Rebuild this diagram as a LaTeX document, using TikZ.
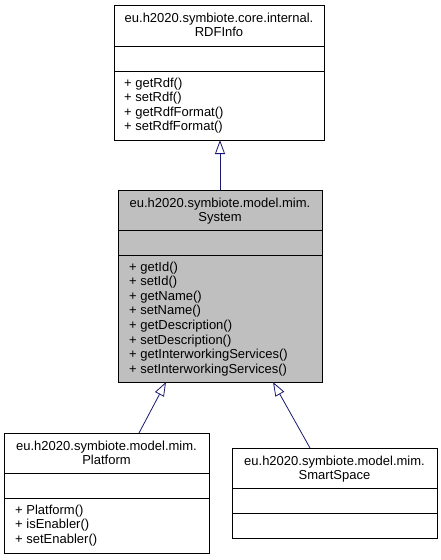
\documentclass[tikz,border=0pt]{standalone}
\usepackage{fontspec}
\setmainfont{Liberation Sans}
\usetikzlibrary{arrows.meta}
\definecolor{edgeblue}{HTML}{191970}
\definecolor{sysgray}{HTML}{BFBFBF}
\tikzset{
  umlbox/.style={draw=black, line width=0.8pt, inner sep=0pt, outer sep=0pt, anchor=north west, fill=white},
  divider/.style={draw=black, line width=0.8pt},
  titletext/.style={anchor=base, inner sep=0pt, font=\fontsize{13}{14.6}\selectfont},
  methtext/.style={anchor=base west, inner sep=0pt, font=\fontsize{13}{14.6}\selectfont},
  inherit/.style={draw=edgeblue, line width=0.8pt, -{Triangle[length=14pt,width=10pt,fill=white]}}
}
\begin{document}
\begin{tikzpicture}[x=1pt,y=-1pt]
\fill[white] (0,0) rectangle (441,560);
\useasboundingbox (0,0) rectangle (441,560);

% RDFInfo
\node[umlbox, minimum width=210pt, minimum height=135pt] (rdf) at (114,5) {};
\draw[divider] (114,46) -- (324,46);
\draw[divider] (114,71) -- (324,71);
\node[titletext] (rdft1) at (219,22) {eu.h2020.symbiote.core.internal.};
\node[titletext] (rdft2) at (219,36.6) {RDFInfo};
\node[methtext] (rdfm1) at (124,87) {+ getRdf()};
\node[methtext] (rdfm2) at (124,101.6) {+ setRdf()};
\node[methtext] (rdfm3) at (124,116.2) {+ getRdfFormat()};
\node[methtext] (rdfm4) at (124,130.8) {+ setRdfFormat()};

% System
\node[umlbox, fill=sysgray, minimum width=204pt, minimum height=192pt] (sys) at (118,190) {};
\draw[divider] (118,230) -- (322,230);
\draw[divider] (118,255) -- (322,255);
\node[titletext] (syst1) at (220,207) {eu.h2020.symbiote.model.mim.};
\node[titletext] (syst2) at (220,221.6) {System};
\node[methtext] (sysm1) at (129,271) {+ getId()};
\node[methtext] (sysm2) at (129,285.6) {+ setId()};
\node[methtext] (sysm3) at (129,300.2) {+ getName()};
\node[methtext] (sysm4) at (129,314.8) {+ setName()};
\node[methtext] (sysm5) at (129,329.4) {+ getDescription()};
\node[methtext] (sysm6) at (129,344) {+ setDescription()};
\node[methtext] (sysm7) at (129,358.6) {+ getInterworkingServices()};
\node[methtext] (sysm8) at (129,373.2) {+ setInterworkingServices()};

% Platform
\node[umlbox, minimum width=205pt, minimum height=120pt] (plat) at (4,433) {};
\draw[divider] (4,473) -- (209,473);
\draw[divider] (4,498) -- (209,498);
\node[titletext] (platt1) at (106.5,450) {eu.h2020.symbiote.model.mim.};
\node[titletext] (platt2) at (106.5,464.6) {Platform};
\node[methtext] (platm1) at (15,514) {+ Platform()};
\node[methtext] (platm2) at (15,528.6) {+ isEnabler()};
\node[methtext] (platm3) at (15,543.2) {+ setEnabler()};

% SmartSpace
\node[umlbox, minimum width=205pt, minimum height=90pt] (smart) at (232,448) {};
\draw[divider] (232,488) -- (437,488);
\draw[divider] (232,513) -- (437,513);
\node[titletext] (smartt1) at (334.5,465) {eu.h2020.symbiote.model.mim.};
\node[titletext] (smartt2) at (334.5,479.6) {SmartSpace};

% Inheritance edges
\draw[inherit] ([xshift=102pt]sys.north west) -- ([xshift=106pt]rdf.south west);
\draw[inherit] ([xshift=135pt]plat.north west) -- ([xshift=48pt]sys.south west);
\draw[inherit] ([xshift=78pt]smart.north west) -- ([xshift=155pt]sys.south west);
\end{tikzpicture}
\end{document}
